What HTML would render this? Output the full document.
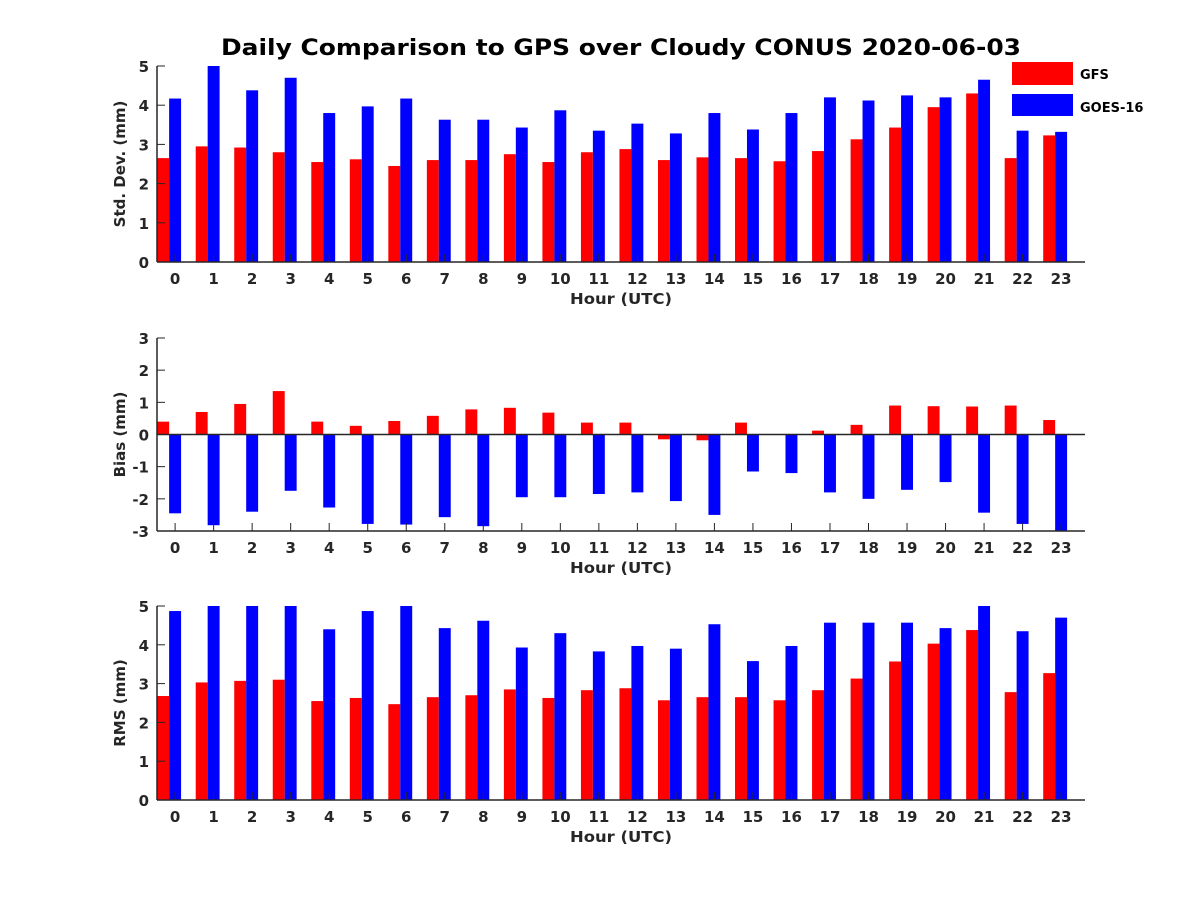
<!DOCTYPE html>
<html><head><meta charset="utf-8"><style>
body{margin:0;background:#fff;}
svg text{font-family:"DejaVu Sans","Liberation Sans",sans-serif;font-weight:bold;fill:#262626;}
</style></head><body>
<svg id="chart" width="1200" height="900" xmlns="http://www.w3.org/2000/svg">
<rect width="1200" height="900" fill="#fff"/>
<text x="621" y="55" font-size="22" text-anchor="middle" textLength="800" lengthAdjust="spacingAndGlyphs" style="fill:#000">Daily Comparison to GPS over Cloudy CONUS 2020-06-03</text>
<g id="plots"></g>
<g>
<rect x="1012" y="62" width="61" height="23" fill="#ff0000"/>
<text x="1080" y="79" font-size="13" style="fill:#000">GFS</text>
<rect x="1012" y="94" width="61" height="22" fill="#0000ff"/>
<text x="1080" y="112" font-size="13" style="fill:#000">GOES-16</text>
</g>
</svg>
<script>
const hours=[0,1,2,3,4,5,6,7,8,9,10,11,12,13,14,15,16,17,18,19,20,21,22,23];
const stdGFS=[2.65,2.95,2.92,2.8,2.55,2.62,2.45,2.6,2.6,2.75,2.55,2.8,2.88,2.6,2.67,2.65,2.57,2.83,3.13,3.43,3.95,4.3,2.65,3.23];
const stdGOES=[4.17,5.0,4.38,4.7,3.8,3.97,4.17,3.63,3.63,3.43,3.87,3.35,3.53,3.28,3.8,3.38,3.8,4.2,4.12,4.25,4.2,4.65,3.35,3.32];
const biasGFS=[0.4,0.7,0.95,1.35,0.4,0.27,0.42,0.58,0.78,0.83,0.68,0.37,0.37,-0.15,-0.18,0.37,0,0.12,0.3,0.9,0.88,0.87,0.9,0.45];
const biasGOES=[-2.45,-2.82,-2.4,-1.75,-2.27,-2.78,-2.8,-2.57,-2.85,-1.95,-1.95,-1.85,-1.8,-2.07,-2.5,-1.15,-1.2,-1.8,-2.0,-1.72,-1.48,-2.43,-2.78,-3.0];
const rmsGFS=[2.68,3.03,3.07,3.1,2.55,2.63,2.47,2.65,2.7,2.85,2.63,2.83,2.88,2.57,2.65,2.65,2.57,2.83,3.13,3.57,4.03,4.38,2.78,3.27];
const rmsGOES=[4.87,5,5,5,4.4,4.87,5,4.43,4.62,3.93,4.3,3.83,3.97,3.9,4.53,3.58,3.97,4.57,4.57,4.57,4.43,5,4.35,4.7];
const stdTicks=[0,1,2,3,4,5];
const biasTicks=[-3,-2,-1,0,1,2,3];
const rmsTicks=[0,1,2,3,4,5];

const NS="http://www.w3.org/2000/svg";
const root=document.getElementById('plots');
function mk(tag,attrs,parent){const e=document.createElementNS(NS,tag);for(const k in attrs)e.setAttribute(k,attrs[k]);parent.appendChild(e);return e;}
const X0=157,X1=1085,xmin=-0.47,xmax=23.62;
const xs=h=>X0+(h-xmin)/(xmax-xmin)*(X1-X0);
const BW=0.31;
function panel(key,top,bottom,ymin,ymax,ticks,gfs,goes,ylabel,zero){
  const g=mk('g',{},root);
  
  
  const ys=v=>bottom-(v-ymin)/(ymax-ymin)*(bottom-top);
  const clip=v=>Math.max(ymin,Math.min(ymax,v));
  hours.forEach((h,i)=>{
    [[gfs[i],h-BW,'#ff0000','gfs'],[goes[i],h,'#0000ff','goes']].forEach(([v,c,col,s])=>{
      const a=ys(0),b=ys(clip(v));
      const x0=Math.max(X0,xs(c-BW/2)),x1=xs(c+BW/2);
      const r=mk('rect',{x:x0,y:Math.min(a,b),width:x1-x0,height:Math.abs(a-b),fill:col},g);
      
      
    });
  });
  mk('line',{x1:X0,y1:top,x2:X0,y2:bottom,stroke:'#262626','stroke-width':1.5},g);
  mk('line',{x1:X0,y1:bottom,x2:X1,y2:bottom,stroke:'#262626','stroke-width':1.5},g);
  if(zero) mk('line',{x1:X0,y1:ys(0),x2:X1,y2:ys(0),stroke:'#262626','stroke-width':1.5},g);
  ticks.forEach(t=>{
    mk('line',{x1:X0,y1:ys(t),x2:X0+8,y2:ys(t),stroke:'#262626','stroke-width':1},g);
    const tx=mk('text',{x:X0-8,y:ys(t)+6,'font-size':15,'text-anchor':'end'},g);
    tx.textContent=t;
    
    
  });
  hours.forEach(h=>{
    mk('line',{x1:xs(h),y1:bottom,x2:xs(h),y2:bottom-8,stroke:'#262626','stroke-width':1},g);
    const tx=mk('text',{x:xs(h),y:bottom+22,'font-size':15,'text-anchor':'middle'},g);
    tx.textContent=h;
    
    
  });
  const xl=mk('text',{x:621,y:bottom+42,'font-size':15,'text-anchor':'middle',textLength:102,lengthAdjust:'spacingAndGlyphs'},g);
  xl.textContent='Hour (UTC)';
  
  
  const cy=(top+bottom)/2;
  const yl=mk('text',{x:125,y:cy,'font-size':15,'text-anchor':'middle',transform:`rotate(-90 125 ${cy})`},g);
  yl.textContent=ylabel;
  
  
}
panel('std',66,262,0,5,stdTicks,stdGFS,stdGOES,'Std. Dev. (mm)',false);
panel('bias',338,531,-3,3,biasTicks,biasGFS,biasGOES,'Bias (mm)',true);
panel('rms',606,800,0,5,rmsTicks,rmsGFS,rmsGOES,'RMS (mm)',false);
</script>
</body></html>
